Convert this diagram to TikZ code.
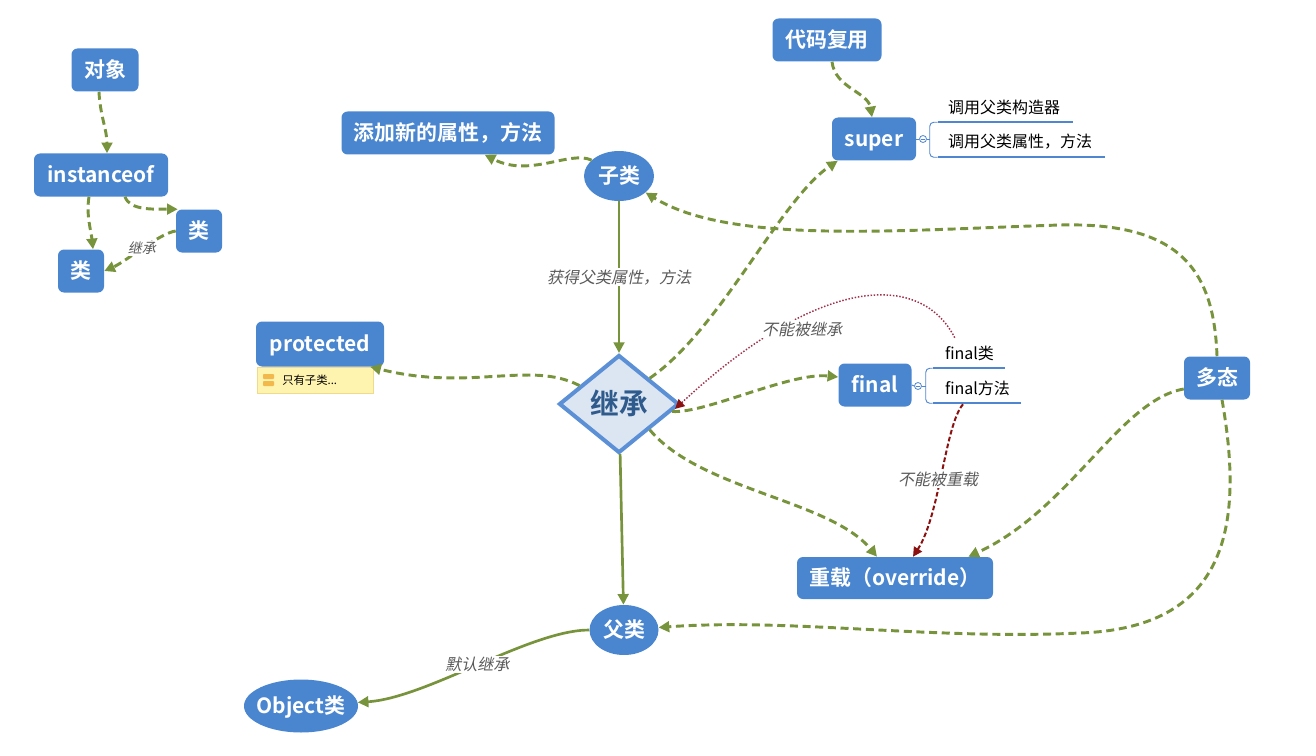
\documentclass[tikz,border=0pt]{standalone}
\usepackage{fontspec}
\usetikzlibrary{shapes.geometric,arrows.meta,calc}
\setmainfont{Noto Sans CJK SC}
\newfontfamily\cjk{Noto Sans CJK SC}
\newfontfamily\cjkb{Noto Sans CJK SC Bold}
\newfontfamily\cjki{Noto Sans CJK SC}[FakeSlant=0.2]
\definecolor{nblue}{HTML}{4A86D0}
\definecolor{egreen}{HTML}{77933C}
\definecolor{dfill}{HTML}{DCE6F2}
\definecolor{dborder}{HTML}{5B8FD6}
\definecolor{dtext}{HTML}{2F5A8C}
\definecolor{labgray}{HTML}{5A5A5A}
\definecolor{rdotc}{HTML}{A0304A}
\definecolor{rdashc}{HTML}{8B1010}
\definecolor{ulblue}{HTML}{4F86CF}
\definecolor{notefill}{HTML}{FFF3B0}
\definecolor{noteline}{HTML}{EEDC8C}
\definecolor{iconc}{HTML}{F2B84B}
\def\pxu{0.75pt}
\tikzset{
  box/.style={rectangle, rounded corners=4.5pt, fill=nblue, text=white,
    font=\cjkb\fontsize{15.7}{18}\selectfont, inner sep=0pt, minimum height=43*\pxu,
    text height=11.6pt, text depth=0pt},
  ell/.style={ellipse, fill=nblue, text=white,
    font=\cjkb\fontsize{15.7}{18}\selectfont, inner sep=0pt,
    text height=11.6pt, text depth=0pt},
  ga/.style={draw=egreen, line width=2.2pt, dash pattern=on 6pt off 3.5pt,
    -{Triangle[length=8pt,width=8pt]}},
  gs/.style={draw=egreen, line width=2pt, -{Triangle[length=8pt,width=8pt]}},
  rdot/.style={draw=rdotc, line width=1.1pt, dash pattern=on 1.1pt off 1.3pt,
    -{Triangle[length=7pt,width=7pt,color=rdashc]}},
  rdash/.style={draw=rdashc, line width=1.5pt, dash pattern=on 3.5pt off 1.8pt,
    -{Triangle[length=7pt,width=7pt]}},
  lab/.style={font=\cjki\fontsize{12}{14}\selectfont, text=labgray, fill=white, inner sep=1pt},
  subt/.style={font=\cjk\fontsize{12}{14}\selectfont, text=black, inner ysep=0pt,
    minimum height=30*\pxu, align=left},
  ul/.style={draw=ulblue, line width=1.6pt},
  brk/.style={draw=ulblue, line width=0.7pt},
  coll/.style={circle, draw=ulblue, line width=0.6pt, fill=white, inner sep=0pt, minimum size=7*\pxu}
}
\begin{document}
\begin{tikzpicture}[x=0.75pt,y=-0.75pt]
\useasboundingbox (0,0) rectangle (1316,756);

% ---------- nodes ----------
\node[box, minimum width=67*\pxu] (obj) at (105,70) {对象};
\node[box, minimum width=134*\pxu] (inst) at (101,175) {instanceof};
\node[box, minimum width=46*\pxu] (clsR) at (199,231) {类};
\node[box, minimum width=46*\pxu] (clsL) at (81,271) {类};
\node[box, minimum width=213*\pxu] (add) at (448,133) {添加新的属性，方法};
\node[ell, minimum width=70*\pxu, minimum height=50*\pxu] (sub) at (619,176) {子类};
\node[box, minimum width=109*\pxu] (reuse) at (827,40) {代码复用};
\node[box, minimum width=84*\pxu] (sup) at (874,139) {super};
\node[rectangle, fill=notefill, draw=noteline, line width=0.6pt, minimum width=116*\pxu, minimum height=26*\pxu, inner sep=0pt] (note) at (315,380) {};
\node[box, minimum width=128*\pxu, minimum height=45*\pxu] (prot) at (320,344) {protected};
\node[font=\cjk\fontsize{8.5}{10}\selectfont, anchor=west, inner sep=0pt] (notet) at (282,380) {只有子类...};
\node[diamond, fill=dfill, draw=dborder, line width=3pt, minimum width=120*\pxu, minimum height=98*\pxu, inner sep=0pt, text=dtext, font=\cjkb\fontsize{21.5}{24}\selectfont, text height=16.4pt, text depth=0pt] (inh) at (619,404) {继承};
\node[box, minimum width=73*\pxu] (fin) at (875,385) {final};
\node[box, minimum width=66*\pxu] (poly) at (1217,378) {多态};
\node[box, minimum width=196*\pxu, minimum height=42*\pxu] (ovr) at (895,578) {重载（override）};
\node[ell, minimum width=69*\pxu, minimum height=50*\pxu] (par) at (624,630) {父类};
\node[ell, minimum width=114*\pxu, minimum height=53*\pxu, inner xsep=-4pt] (object) at (301,706) {Object类};

% note icon
\fill[iconc, rounded corners=0.6pt] (263,374) rectangle (274,379);
\fill[iconc, rounded corners=0.6pt] (263,381) rectangle (274,386);

% super sub-items
\node[subt, inner xsep=10*\pxu, text width=115*\pxu] (c1) at (1005.5,107) {调用父类构造器};
\node[subt, inner xsep=10*\pxu, text width=147*\pxu] (c2) at (1021.5,142) {调用父类属性，方法};
\draw[ul] (c1.south west) -- (c1.south east);
\draw[ul] (c2.south west) -- (c2.south east);
\node[coll] (so) at (923,139) {};
\draw[brk] ($(so.center)+(-2,0)$) -- ($(so.center)+(2,0)$);
\draw[brk] (sup.east) -- (so.west);
\draw[brk] (so.east) -- ($(so.east)+(3.5,0)$);
\draw[brk, rounded corners=3pt] (c1.south west) -- ++(-8,0) |- (c2.south west);

% final sub-items
\node[subt, inner xsep=12*\pxu, text width=48*\pxu] (fc) at (969,353) {final类};
\node[subt, inner xsep=12*\pxu, text width=64*\pxu] (fm) at (977,388) {final方法};
\draw[ul] (fc.south west) -- (fc.south east);
\draw[ul] (fm.south west) -- (fm.south east);
\node[coll] (fo) at (918,386) {};
\draw[brk] ($(fo.center)+(-2,0)$) -- ($(fo.center)+(2,0)$);
\draw[brk] (fin.east) -- (fo.west);
\draw[brk] (fo.east) -- ($(fo.east)+(4.5,0)$);
\draw[brk, rounded corners=3pt] (fc.south west) -- ++(-7,0) |- (fm.south west);

% ---------- connectors ----------
\draw[ga] ($(obj.south)+(-6,0)$) .. controls (100,115) and (107,130) .. ($(inst.north)+(6,0)$);
\draw[ga] ($(inst.south)+(24,0)$) .. controls (130,211) and (155,209) .. ($(clsR.north west)+(2,0)$);
\draw[ga] ($(inst.south)+(-12,0)$) .. controls (86,215) and (91,230) .. ($(clsL.north)+(12,0)$);
\draw[ga] (clsR.west) .. controls (160,233) and (125,262) .. (clsL.east)
  node[lab, pos=0.5, font=\cjki\fontsize{10.5}{12}\selectfont] {继承};
\draw[ga] (sub.150) .. controls (570,150) and (530,178) .. ($(add.south east)+(-70,0)$);
\draw[gs] (sub) -- (inh) node[lab, midway] {获得父类属性，方法};
\draw[ga] (inh.155) .. controls (530,360) and (470,392) .. ($(prot.south east)+(-14,0)$);
\draw[ga] (inh.40) .. controls (720,330) and (780,200) .. ($(sup.south west)+(6,0)$);
\draw[ga] (inh.-8) .. controls (705,414) and (790,372) .. ($(fin.west)+(0,-8)$);
\draw[rdot] ($(fc.north west)+(22,0)$) .. controls (920,270) and (818,276) .. (inh.-5);
\node[lab] (l1) at (802,329) {不能被继承};
\draw[rdash] ($(fm.south)+(-14,1)$) .. controls (945,425) and (940,515) .. ($(ovr.north)+(18,0)$);
\node[lab] (l2) at (938,479) {不能被重载};
\draw[ga] (inh.-40) .. controls (700,490) and (830,500) .. ($(ovr.north)+(-18,0)$);
\draw[ga] (poly.north) .. controls (1214,270) and (1180,222) .. (1060,225)
  .. controls (900,230) and (730,245) .. (sub);
\draw[ga] ($(poly.west)+(0,11)$) .. controls (1120,400) and (1070,510) .. ($(ovr.north east)+(-25,0)$);
\draw[ga] ($(poly.south)+(5,0)$) .. controls (1245,530) and (1225,628) .. (1080,633)
  .. controls (930,640) and (790,618) .. (par);
\draw[gs] (inh) -- (par);
\draw[ga] ($(reuse.south)+(5,0)$) .. controls (835,88) and (868,92) .. ($(sup.north)+(-2,0)$);
\draw[gs] (par) .. controls (530,630) and (427,698) .. (object)
  node[lab, pos=0.5] {默认继承};
\end{tikzpicture}
\end{document}
